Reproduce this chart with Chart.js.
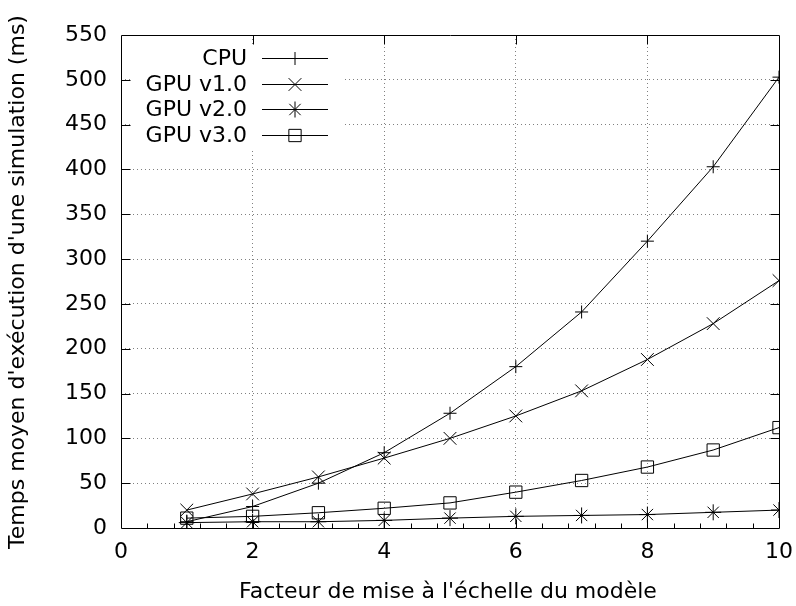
<!DOCTYPE html>
<html>
<head>
<meta charset="utf-8">
<title>Temps moyen d'exécution</title>
<script src="https://cdn.jsdelivr.net/npm/chart.js@4/dist/chart.umd.min.js"></script>
<style>
  html, body { margin: 0; padding: 0; background: #fff; }
  canvas { display: block; }
</style>
</head>
<body>
<canvas id="chart" width="796" height="606"></canvas>
<script>
// Facteur de mise à l'échelle
const scaleFactors = [1, 2, 3, 4, 5, 6, 7, 8, 9, 10];

// Temps moyens (ms)
const cpuTimes   = [7, 24, 50, 84, 128, 180, 241, 320, 403, 503];
const gpuV1Times = [20, 38, 57, 78, 100, 125, 153, 188, 228, 276];
const gpuV2Times = [6, 7, 7, 8.5, 11, 13, 14, 15, 17.5, 20];
const gpuV3Times = [11, 13, 17, 22, 28, 40, 53, 68, 87, 112];

const seriesLabels = ['CPU', 'GPU v1.0', 'GPU v2.0', 'GPU v3.0'];
const xTitle = "Facteur de mise à l'échelle du modèle";
const yTitle = "Temps moyen d'exécution d'une simulation (ms)";

const FONT = 'DejaVu Sans, Verdana, sans-serif';
const FONT_SIZE = 22;

function toPoints(values) {
    return scaleFactors.map((x, i) => ({ x: x, y: values[i] }));
}

function series(label, values, style, radius) {
    return {
        label: label,
        data: toPoints(values),
        borderColor: '#000',
        borderWidth: 1,
        pointStyle: style,
        pointRadius: radius,
        pointBorderColor: '#000',
        pointBackgroundColor: 'rgba(0,0,0,0)',
        pointBorderWidth: 1,
        tension: 0,
        fill: false
    };
}

function text(ctx, str, x, y, align, rotated) {
    ctx.save();
    ctx.translate(x, y);
    if (rotated) ctx.rotate(-Math.PI / 2);
    ctx.font = FONT_SIZE + 'px ' + FONT;
    ctx.fillStyle = '#000';
    ctx.textAlign = align;
    ctx.textBaseline = 'middle';
    ctx.fillText(str, 0, 0);
    ctx.restore();
}

// gnuplot-style frame with inward tics (minor tics on the bottom axis)
const framePlugin = {
    id: 'frame',
    afterDatasetsDraw(chart) {
        const { ctx, chartArea: a, scales: { x, y } } = chart;
        ctx.save();
        ctx.strokeStyle = '#000';
        ctx.lineWidth = 1;
        ctx.beginPath();
        const L = Math.round(a.left) + 0.5, R = Math.round(a.right) + 0.5;
        const T = Math.round(a.top) + 0.5, B = Math.round(a.bottom) + 0.5;
        ctx.rect(L, T, R - L, B - T);
        const major = 9, minor = 5;
        for (let v = 50; v < 550; v += 50) {
            const py = Math.round(y.getPixelForValue(v)) + 0.5;
            ctx.moveTo(L, py); ctx.lineTo(L + major, py);
            ctx.moveTo(R, py); ctx.lineTo(R - major, py);
        }
        for (let v = 2; v < 10; v += 2) {
            const px = Math.round(x.getPixelForValue(v)) + 0.5;
            ctx.moveTo(px, B); ctx.lineTo(px, B - major);
            ctx.moveTo(px, T); ctx.lineTo(px, T + major);
        }
        for (let k = 1; k < 25; k++) {
            if (k % 5 === 0) continue;
            const px = Math.round(x.getPixelForValue(k * 0.4)) + 0.5;
            ctx.moveTo(px, B); ctx.lineTo(px, B - minor);
        }
        ctx.stroke();
        ctx.restore();
    },
    afterDraw(chart) {
        // tick labels and axis titles
        const { ctx, scales: { x, y } } = chart;
        y.ticks.forEach(t => {
            text(ctx, String(t.value), 107, y.getPixelForValue(t.value), 'right');
        });
        x.ticks.forEach(t => {
            text(ctx, String(t.value), x.getPixelForValue(t.value), 552, 'center');
        });
        text(ctx, xTitle, 448, 592, 'center');
        text(ctx, yTitle, 18, 282, 'center', true);
    }
};

// key in the upper left: text right-aligned, then line sample with marker
const keyPlugin = {
    id: 'key',
    beforeDatasetsDraw(chart) {
        const { ctx } = chart;
        const textRight = 247, lineL = 262, lineR = 328, top = 58, step = 25.7;
        ctx.save();
        ctx.fillStyle = '#fff';
        ctx.fillRect(132, 46, 210, 102);
        chart.data.datasets.forEach((ds, i) => {
            const yy = Math.round(top + i * step) + 0.5;
            text(ctx, ds.label, textRight, yy + 1, 'right');
            ctx.strokeStyle = '#000';
            ctx.lineWidth = 1;
            ctx.beginPath();
            ctx.moveTo(lineL, yy);
            ctx.lineTo(lineR, yy);
            ctx.stroke();
            ctx.fillStyle = 'rgba(0,0,0,0)';
            Chart.helpers.drawPoint(ctx, {
                pointStyle: ds.pointStyle,
                radius: ds.pointRadius,
                rotation: 0,
                borderWidth: 1
            }, (lineL + lineR) / 2, yy);
        });
        ctx.restore();
    }
};

const edgeless = (lo, hi) => (c) =>
    (c.tick && (c.tick.value === lo || c.tick.value === hi)) ? 'rgba(0,0,0,0)' : '#808080';

new Chart(document.getElementById('chart'), {
    type: 'line',
    data: {
        datasets: [
            series(seriesLabels[0], cpuTimes, 'cross', 6.5),
            series(seriesLabels[1], gpuV1Times, 'crossRot', 9),
            series(seriesLabels[2], gpuV2Times, 'star', 8),
            series(seriesLabels[3], gpuV3Times, 'rect', 8.7)
        ]
    },
    options: {
        responsive: false,
        animation: false,
        layout: { padding: { top: 35, right: 17, left: 0, bottom: 0 } },
        plugins: {
            legend: { display: false },
            tooltip: { enabled: false }
        },
        scales: {
            x: {
                type: 'linear',
                min: 0,
                max: 10,
                afterFit(s) { s.height = 78; s.paddingLeft = 0; s.paddingRight = 0; },
                ticks: { stepSize: 2, display: false },
                grid: { color: edgeless(0, 10), lineWidth: 1, drawTicks: false },
                border: { display: false, dash: [1, 3] }
            },
            y: {
                type: 'linear',
                min: 0,
                max: 550,
                afterFit(s) { s.width = 121; s.paddingTop = 0; s.paddingBottom = 0; },
                ticks: { stepSize: 50, display: false },
                grid: { color: edgeless(0, 550), lineWidth: 1, drawTicks: false },
                border: { display: false, dash: [1, 3] }
            }
        }
    },
    plugins: [keyPlugin, framePlugin]
});
</script>
</body>
</html>
